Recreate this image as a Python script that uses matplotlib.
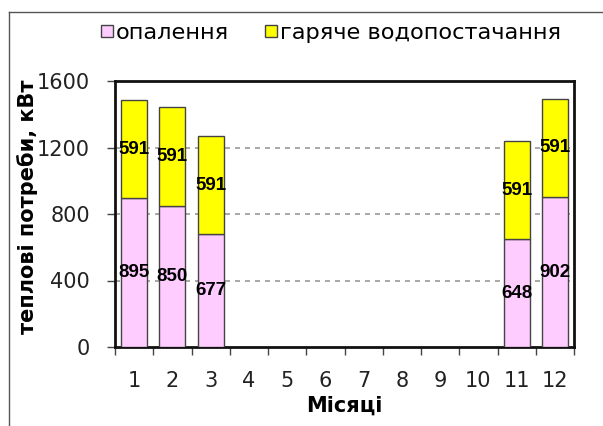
import matplotlib
matplotlib.use("Agg")
import matplotlib.pyplot as plt
from matplotlib.lines import Line2D
import numpy as np

plt.rcParams['font.family'] = ['DejaVu Sans']

months = ['1', '2', '3', '4', '5', '6', '7', '8', '9', '10', '11', '12']
heating = [895, 850, 677, 0, 0, 0, 0, 0, 0, 0, 648, 902]
hot_water = [591, 591, 591, 0, 0, 0, 0, 0, 0, 0, 591, 591]
series_names = ['опалення', 'гаряче водопостачання']
y_ticks = [0, 400, 800, 1200, 1600]

pink = '#FFCCFF'
yellow = '#FFFF00'
edge = '#444444'

fig = plt.figure(figsize=(6.03, 4.26), dpi=100)
ax = fig.add_axes([115/603, 1 - 347/426, 459/603, 266/426])

x = np.arange(len(months))
w = 0.68
mask = [h + g > 0 for h, g in zip(heating, hot_water)]
xs = x[mask]
hs = np.array(heating)[mask]
gs = np.array(hot_water)[mask]
ax.bar(xs, hs, width=w, color=pink, edgecolor=edge, linewidth=1, zorder=3)
ax.bar(xs, gs, width=w, bottom=hs, color=yellow, edgecolor=edge, linewidth=1, zorder=3)

for xi, h, g in zip(xs, hs, gs):
    ax.text(xi, h / 2, str(h), ha='center', va='center', fontsize=13.5,
            fontweight='bold', color='black', zorder=4, family='Liberation Sans')
    ax.text(xi, h + g / 2, str(g), ha='center', va='center', fontsize=13.5,
            fontweight='bold', color='black', zorder=4, family='Liberation Sans')

ax.set_xlim(-0.5, len(months) - 0.5)
ax.set_ylim(0, 1600)
ax.set_yticks(y_ticks)
ax.set_yticklabels([str(t) for t in y_ticks], fontsize=15, color='#222222')
ax.set_xticks(x)
ax.set_xticklabels(months, fontsize=15, color='#222222')
ax.set_xticks(np.arange(-0.5, len(months)), minor=True)
ax.tick_params(axis='x', which='major', length=0, pad=17)
ax.tick_params(axis='x', which='minor', length=6, width=1, color='#444444', direction='out')
ax.tick_params(axis='y', length=6, width=1, color='#444444', direction='out', pad=12)

for yv in y_ticks[1:-1]:
    ax.axhline(yv, color='#999999', linestyle=(0, (3, 3)), linewidth=1.2, zorder=1)

for s in ax.spines.values():
    s.set_linewidth(2)
    s.set_color('#111111')

ax.set_xlabel('Місяці', fontsize=15, fontweight='bold', labelpad=4)
fig.text(28/603, 1 - 207/426, 'теплові потреби, кВт', rotation=90, fontsize=15,
         fontweight='bold', ha='center', va='center')

handles = [Line2D([0], [0], marker='s', linestyle='none', markersize=8,
                  markerfacecolor=c, markeredgecolor=edge, markeredgewidth=1)
           for c in (pink, yellow)]
fig.legend(handles, series_names, loc='center', bbox_to_anchor=(330/603, 1 - 33/426),
           ncol=2, frameon=False, fontsize=16.2, handletextpad=0.05, columnspacing=1.5,
           handlelength=0.7, borderaxespad=0)

# outer frame lines (top and left)
fig.add_artist(Line2D([9/603, 9/603], [0, 1 - 12/426], transform=fig.transFigure,
                      color='#555555', linewidth=1))
fig.add_artist(Line2D([9/603, 1], [1 - 12/426, 1 - 12/426], transform=fig.transFigure,
                      color='#555555', linewidth=1))

fig.savefig('out.png', dpi=100)
